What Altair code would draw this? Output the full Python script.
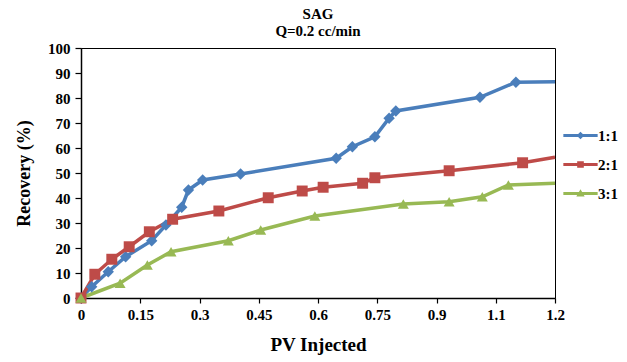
import altair as alt
import pandas as pd

series = ["1:1", "2:1", "3:1"]

pv_11 = [0, 0.027, 0.069, 0.113, 0.179, 0.215, 0.255, 0.272, 0.308, 0.404, 0.646, 0.687, 0.744, 0.780, 0.797, 1.010, 1.101, 1.2]
rec_11 = [0, 4.5, 10.5, 16.5, 22.9, 29.2, 36.3, 43.2, 47.2, 49.6, 55.9, 60.5, 64.5, 71.9, 74.8, 80.3, 86.3, 86.5]

pv_21 = [0, 0.035, 0.078, 0.122, 0.173, 0.232, 0.349, 0.474, 0.560, 0.613, 0.713, 0.744, 0.932, 1.118, 1.2]
rec_21 = [0, 9.5, 15.5, 20.5, 26.5, 31.5, 34.8, 40.1, 42.8, 44.3, 45.9, 48.1, 50.9, 54.1, 56.3]

pv_31 = [0, 0.099, 0.168, 0.228, 0.373, 0.455, 0.592, 0.816, 0.932, 1.016, 1.082, 1.2]
rec_31 = [0, 5.9, 13.2, 18.5, 22.9, 27.2, 32.8, 37.6, 38.5, 40.5, 45.2, 45.9]

x_ticks = [0, 0.15, 0.3, 0.45, 0.6, 0.75, 0.9, 1.05, 1.2]
y_ticks = [0, 10, 20, 30, 40, 50, 60, 70, 80, 90, 100]

pvs = {"1:1": pv_11, "2:1": pv_21, "3:1": pv_31}
recs = {"1:1": rec_11, "2:1": rec_21, "3:1": rec_31}

rows = []
for s in series:
    n = len(pvs[s])
    for i, (x, y) in enumerate(zip(pvs[s], recs[s])):
        # last point is the curve's end at the chart edge, drawn without a marker
        rows.append({"series": s, "pv": x, "rec": y, "order": i, "marker": i < n - 1})
df = pd.DataFrame(rows)

colors = ["#4A7EBB", "#BE4B48", "#98B954"]
shapes = ["diamond", "square", "triangle-up"]
sizes = [130, 120, 120]
legend_paths = [
    "M-4.9,-0.45H4.9V0.45H-4.9Z M0,-1.1L1.1,0L0,1.1L-1.1,0Z",
    "M-4.9,-0.45H4.9V0.45H-4.9Z M-0.95,-0.95H0.95V0.95H-0.95Z",
    "M-4.9,-0.45H4.9V0.45H-4.9Z M0,-1.2L1.2,0.85L-1.2,0.85Z",
]
FONT = "Liberation Serif"

color_scale = alt.Scale(domain=series, range=colors)

x_axis = alt.Axis(values=x_ticks, format="~g", title="PV Injected", grid=False,
                  tickSize=5, labelPadding=4, titlePadding=13, labelFlush=False,
                  labelOverlap=False)
y_axis = alt.Axis(values=y_ticks, title="Recovery (%)", grid=False,
                  tickSize=6, labelPadding=5, titlePadding=14, labelFlush=False,
                  labelOverlap=False, titleFontSize=18)
x_scale = alt.Scale(domain=[0, 1.2], nice=False, zero=False)
y_scale = alt.Scale(domain=[0, 100], nice=False)


def xenc():
    return alt.X("pv:Q", scale=x_scale, axis=x_axis)


def yenc():
    return alt.Y("rec:Q", scale=y_scale, axis=y_axis)


lines = alt.Chart(df).mark_line(strokeWidth=3.5).encode(
    x=xenc(), y=yenc(),
    color=alt.Color("series:N", scale=color_scale, legend=None),
    order="order:Q",
)

point_layers = []
for s, sh, sz in zip(series, shapes, sizes):
    point_layers.append(
        alt.Chart(df)
        .transform_filter((alt.datum.series == s) & alt.datum.marker)
        .mark_point(shape=sh, filled=True, size=sz, opacity=1)
        .encode(x=xenc(), y=yenc(),
                color=alt.Color("series:N", scale=color_scale, legend=None))
    )

legend_props = dict(title=None, orient="none", legendX=492, legendY=80,
                    symbolSize=49, labelOffset=10, rowPadding=13,
                    symbolOpacity=1, symbolStrokeWidth=0,
                    labelFont=FONT, labelFontSize=15, labelFontWeight="bold",
                    labelColor="black")

leg = alt.Chart(df).mark_point(filled=True, opacity=0).encode(
    x=xenc(), y=yenc(),
    color=alt.Color("series:N", scale=color_scale, legend=alt.Legend(**legend_props)),
    shape=alt.Shape("series:N", scale=alt.Scale(domain=series, range=legend_paths),
                    legend=alt.Legend(**legend_props)),
)

chart = alt.layer(lines, *point_layers, leg).resolve_legend(
    color="independent", shape="independent"
).properties(
    width=474, height=250,
    title=alt.Title(["SAG", "Q=0.2 cc/min"], font=FONT, fontSize=15, fontWeight="bold",
                    color="black", anchor="middle", offset=2, lineHeight=17),
    autosize=alt.AutoSizeParams(type="none"),
    padding={"left": 81, "top": 48, "right": 72, "bottom": 64},
    background="white",
).configure_view(
    stroke="black", strokeWidth=1
).configure_axis(
    domainColor="black", domainWidth=1.5, tickColor="black", tickWidth=1.2,
    labelFont=FONT, labelFontSize=15, labelFontWeight="bold", labelColor="black",
    titleFont=FONT, titleFontSize=19, titleFontWeight="bold", titleColor="black",
)

chart.save("out.html", embed_options={"renderer": "svg", "actions": False})
